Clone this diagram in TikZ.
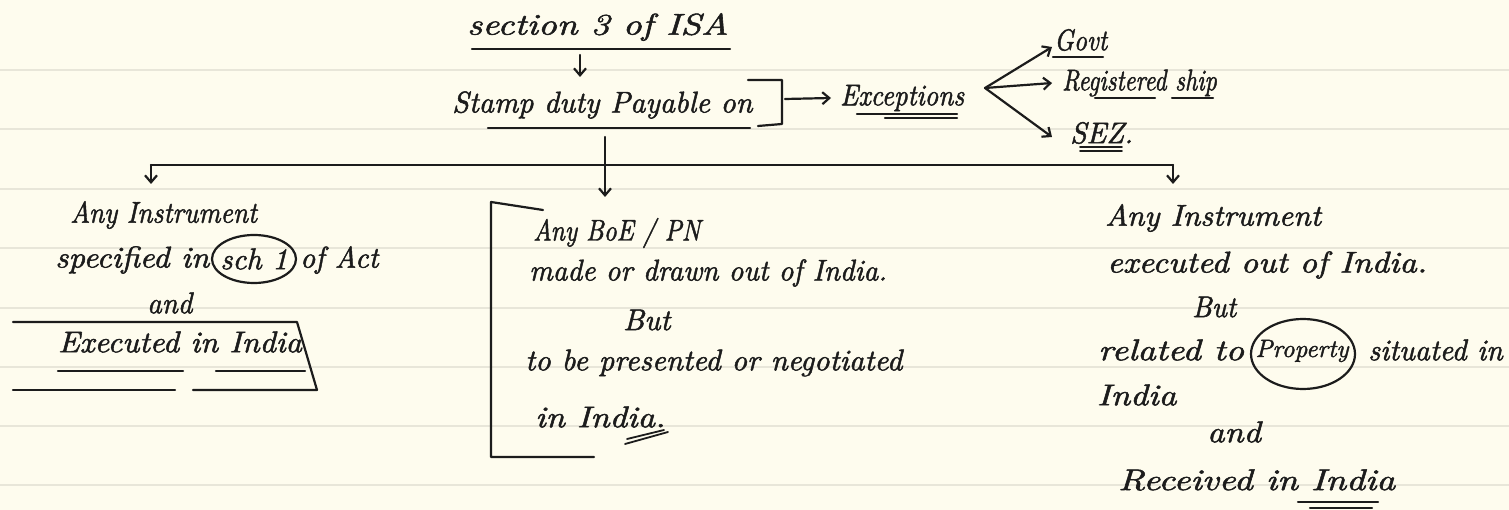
\documentclass[tikz,border=0pt]{standalone}
\usepackage{fontspec}
\usetikzlibrary{arrows.meta}
\newfontfamily\handfont{lmroman10-italic.otf}[FakeBold=1.6]
\definecolor{paper}{HTML}{FEFCEE}
\definecolor{ruling}{HTML}{E8E6D9}
\definecolor{ink}{HTML}{1C1C1C}
% horizontally stretched handwriting-like text
\newcommand\hw[2]{\scalebox{#1}[1]{#2}}
\begin{document}
\begin{tikzpicture}[x=1pt,y=-1pt,
  hand/.style={font=\fontsize{30}{32}\selectfont\handfont, text=ink, inner sep=0pt, anchor=west},
  pen/.style={draw=ink, line width=2.2pt, line cap=round, line join=round},
  arr/.style={pen, -{Straight Barb[length=7pt,width=12pt,line width=2.2pt]}}]
% ruled paper
\fill[paper] (0,0) rectangle (1509,510);
\useasboundingbox (0,0) rectangle (1509,510);
\foreach \y in {70,129,189,248,308,367,426,485}
  \draw[ruling, line width=2pt] (0,\y) -- (1509,\y);

% heading
\node[hand] (sec) at (467,27) {\hw{1.23}{section 3 of ISA}};
\draw[pen] (472,49) -- (730,49);
\node[hand] (stamp) at (452,105) {\hw{0.99}{Stamp duty Payable on}};
\draw[pen] (488,128) -- (750,128);
\draw[pen] (748,80) -- (782,80) -- (782,124) -- (758,126);
\coordinate (s1) at (580,55);
\coordinate (s2) at (580,77);
\draw[arr] (s1) -- (s2);

% exceptions
\node[hand] (exc) at (840,98) {\hw{0.89}{Exceptions}};
\draw[pen] (857,114) -- (957,114);
\draw[pen] (885,118) -- (957,118);
\coordinate (brk) at (785,99);
\draw[arr] (brk) -- ([xshift=-9pt]exc.west);
\coordinate (fan) at (985,88);
\node[hand] (govt) at (1054,40) {\hw{0.85}{Govt}};
\node[hand] (reg) at (1062,83) {\hw{0.8}{Registered ship}};
\node[hand] (sez) at (1070,133) {\hw{0.97}{SEZ.}};
\draw[arr] (fan) -- ([shift={(-2pt,-7pt)}]govt.west);
\draw[arr] (fan) -- ([xshift=-10pt]reg.west);
\draw[arr] (fan) -- ([shift={(-18pt,-4pt)}]sez.west);
\draw[pen] (1053,57) -- (1103,57);
\draw[pen] (1095,98) -- (1155,98);
\draw[pen] (1172,98) -- (1213,98);
\draw[pen, line width=1.8pt] (1080,147) -- (1122,147);
\draw[pen, line width=1.8pt] (1080,151) -- (1122,151);

% branching
\coordinate (ms) at (605,137);
\coordinate (bl) at (151,165);
\coordinate (br) at (1173,165);
\coordinate (tl) at (151,184);
\coordinate (tr) at (1173,184);
\coordinate (tm) at (605,197);
\draw[pen] (bl) -- (br);
\draw[arr] (bl) -- (tl);
\draw[arr] (br) -- (tr);
\draw[arr] (ms) -- (tm);

% left branch
\node[hand] (l1) at (70,215) {\hw{0.9}{Any Instrument}};
\node[hand] (l2a) at (55,260) {\hw{1.08}{specified in}};
\node[hand, anchor=center] (sch) at (254,259) {sch 1};
\draw[pen] (sch) ellipse [x radius=42pt, y radius=24pt];
\node[hand] (l2b) at (300,260) {\hw{0.98}{of Act}};
\node[hand] (l3) at (147,303) {\hw{0.95}{and}};
\node[hand] (l4) at (58,342) {\hw{1.06}{Executed in India}};
\draw[pen] (13,322) -- (297,322) -- (317,390) -- (193,390);
\draw[pen] (175,390) -- (13,390) -- cycle;
\draw[pen] (58,371) -- (183,371);
\draw[pen] (216,371) -- (305,371);

% middle branch
\node[hand] (m1) at (533,233) {\hw{0.84}{Any BoE / PN}};
\node[hand] (m2) at (529,273) {\hw{0.96}{made or drawn out of India.}};
\node[hand] (m3) at (623,320) {\hw{1.0}{But}};
\node[hand] (m4) at (525,363) {\hw{1.01}{to be presented or negotiated}};
\node[hand] (m5) at (535,417) {\hw{1.14}{in India.}};
\draw[pen] (543,210) -- (491,202) -- (491,457) -- (594,457);
\draw[pen, line width=1.8pt] (625,444) -- (668,432);
\draw[pen, line width=1.8pt] (627,439) -- (664,430);

% right branch
\node[hand] (r1) at (1105,218) {\hw{1.04}{Any Instrument}};
\node[hand] (r2) at (1107,265) {\hw{1.13}{executed out of India.}};
\node[hand] (r3) at (1192,307) {\hw{0.93}{But}};
\node[hand] (r4a) at (1098,350) {\hw{1.2}{related to}};
\node[hand, anchor=center, font=\fontsize{25}{27}\selectfont\handfont] (prop) at (1302,351) {Property};
\draw[pen] (1303,354) ellipse [x radius=52pt, y radius=35pt];
\node[hand] (r4b) at (1368,350) {\hw{0.98}{situated in}};
\node[hand] (r5) at (1097,395) {\hw{1.16}{India}};
\node[hand] (r6) at (1207,432) {\hw{1.13}{and}};
\node[hand] (r7) at (1118,480) {\hw{1.23}{Received in India}};
\draw[pen] (1298,502) -- (1378,502);
\draw[pen] (1310,508) -- (1372,508);
\end{tikzpicture}
\end{document}
